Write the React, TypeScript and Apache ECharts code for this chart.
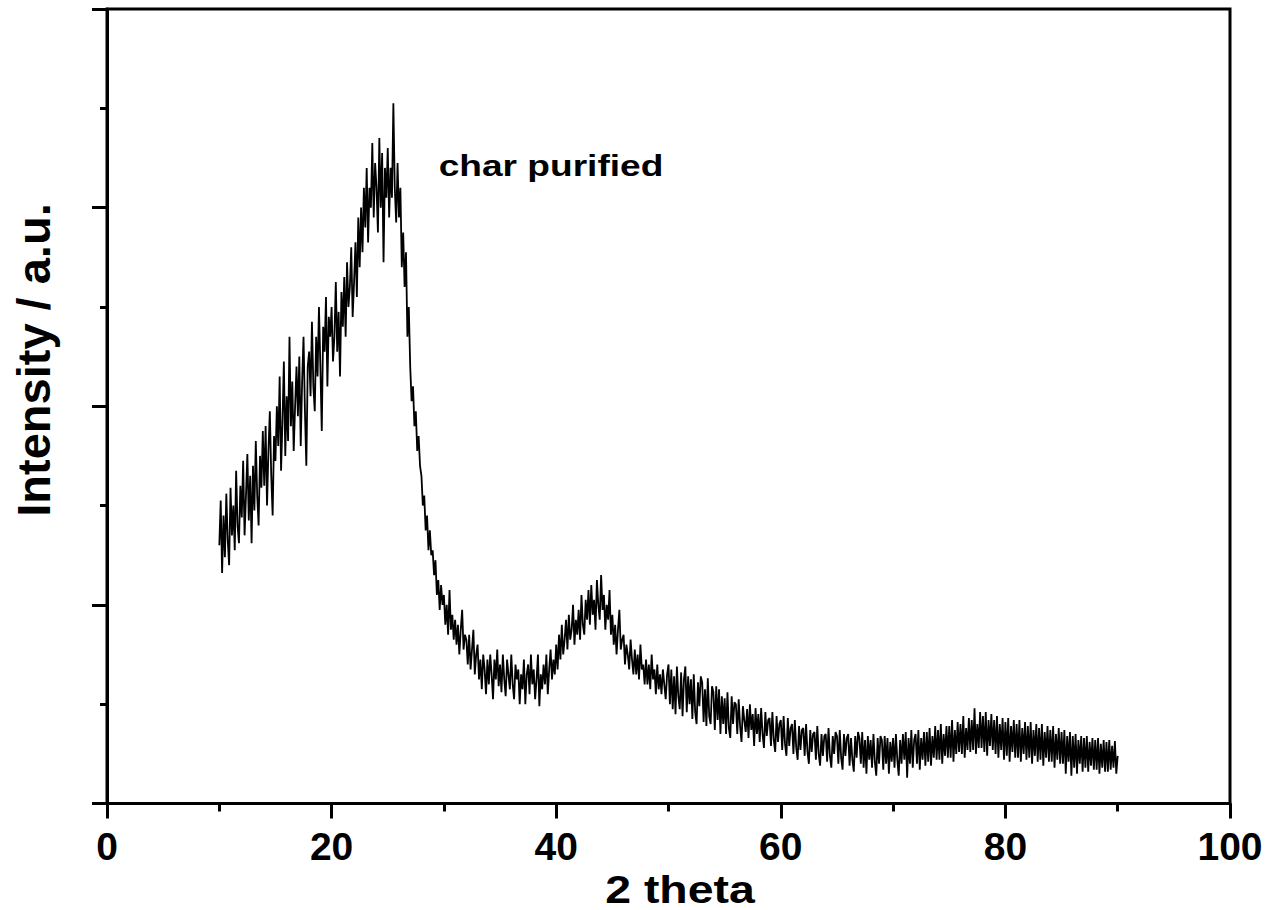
import React, { useEffect, useRef } from "react";
import * as echarts from "echarts";

// Axis ranges (2 theta in degrees, intensity in arbitrary units)
const X_MIN = 0;
const X_MAX = 100;
const X_INTERVAL = 20;
const Y_MIN = 0;
const Y_MAX = 800;
const Y_INTERVAL = 200;

// Sampling step of the diffractogram readings (degrees)
const STEP = 0.125;

// Intensity readings, 10.000° – 29.875° (8 per degree)
const SEG_A_START = 10;
const SEG_A = [
  260, 305, 232, 290, 248, 312, 265, 240,
  318, 270, 300, 255, 335, 280, 262, 320,
  288, 345, 270, 310, 352, 285, 330, 262,
  340, 295, 365, 310, 280, 350, 318, 375,
  320, 380, 300, 355, 395, 330, 290, 370,
  345, 400, 360, 430, 335, 385, 445, 350,
  410, 365, 470, 380, 425, 355, 400, 440,
  390, 450, 360, 425, 470, 395, 340, 440,
  455, 410, 485, 420, 395, 470, 430, 500,
  440, 375, 480, 455, 510, 420, 490, 470,
  500, 445, 470, 525, 455, 495, 430, 515,
  480, 530, 470, 545, 500, 520, 560, 490,
  525, 565, 510, 590, 540, 600, 555, 620,
  580, 640, 565, 620, 600, 665, 590, 645,
  620, 575, 670, 600, 655, 545, 640, 610,
  660, 590, 640, 610, 705, 620, 585, 645,
  590, 620, 540, 575, 520, 555, 470, 500,
  440, 405, 420, 380, 395, 355, 370, 340,
  330, 300, 310, 275, 290, 255, 275, 250,
  255, 230, 245, 210, 225, 195, 220, 200,
];

// Intensity readings, 30.000° – 49.875°
const SEG_B_START = 30;
const SEG_B = [
  210, 180, 200, 170, 215, 175, 190, 165,
  185, 160, 180, 150, 175, 195, 155, 170,
  165, 140, 170, 135, 155, 175, 130, 150,
  160, 125, 145, 115, 150, 135, 110, 145,
  120, 150, 130, 105, 145, 125, 155, 118,
  140, 112, 150, 125, 108, 145, 130, 115,
  150, 120, 105, 140, 125, 135, 100, 130,
  115, 145, 100, 130, 140, 110, 150, 120,
  135, 105, 125, 150, 98, 130, 115, 140,
  120, 150, 110, 135, 155, 125, 145, 130,
  160, 135, 170, 145, 180, 150, 165, 185,
  155, 190, 165, 175, 200, 160, 185, 170,
  195, 165, 210, 180, 170, 205, 185, 215,
  180, 220, 190, 205, 175, 225, 200, 185,
  230, 195, 210, 175, 200, 185, 215, 170,
  190, 160, 180, 150, 175, 195, 155, 165,
  170, 140, 160, 150, 135, 165, 145, 130,
  155, 130, 150, 125, 160, 135, 140, 120,
  145, 120, 140, 115, 150, 125, 135, 110,
  140, 115, 130, 110, 135, 120, 105, 130,
];

// Intensity readings, 50.000° – 69.875°
const SEG_C_START = 50;
const SEG_C = [
  140, 100, 135, 95, 128, 90, 138, 108,
  95, 132, 88, 125, 138, 92, 128, 100,
  125, 85, 130, 92, 80, 122, 98, 128,
  122, 82, 115, 78, 126, 88, 80, 118,
  112, 74, 118, 84, 115, 70, 108, 80,
  106, 70, 112, 76, 66, 108, 80, 102,
  100, 70, 105, 78, 62, 98, 84, 72,
  95, 66, 100, 74, 90, 58, 96, 70,
  90, 62, 96, 70, 56, 92, 68, 84,
  86, 58, 92, 64, 52, 88, 62, 80,
  84, 54, 88, 60, 48, 86, 58, 76,
  80, 50, 84, 56, 44, 78, 54, 74,
  76, 48, 80, 52, 40, 74, 52, 70,
  72, 44, 78, 50, 38, 70, 48, 68,
  70, 42, 76, 48, 36, 68, 50, 72,
  68, 40, 74, 46, 34, 70, 48, 66,
  70, 38, 66, 44, 32, 68, 46, 72,
  66, 40, 72, 36, 64, 30, 68, 44,
  64, 36, 70, 42, 28, 66, 40, 68,
  64, 34, 68, 40, 66, 30, 62, 42,
];

// Intensity readings, 70.000° – 90.000°
const SEG_D_START = 70;
const SEG_D = [
  66, 36, 70, 44, 28, 64, 40, 70,
  44, 72, 26, 66, 40, 74, 36, 64,
  70, 40, 74, 34, 66, 44, 72, 38,
  72, 42, 76, 38, 68, 46, 78, 44,
  74, 44, 80, 40, 70, 48, 78, 46,
  78, 46, 84, 42, 74, 50, 82, 52,
  80, 50, 88, 46, 76, 54, 86, 52,
  84, 54, 96, 50, 80, 56, 92, 56,
  88, 52, 92, 48, 84, 58, 90, 54,
  84, 50, 88, 46, 80, 54, 86, 44,
  82, 48, 86, 42, 78, 52, 84, 46,
  80, 46, 84, 42, 76, 50, 82, 44,
  78, 46, 82, 40, 74, 48, 80, 42,
  76, 44, 80, 38, 72, 46, 78, 42,
  74, 42, 78, 36, 70, 44, 76, 40,
  72, 40, 74, 30, 68, 42, 72, 28,
  68, 36, 70, 30, 64, 40, 68, 32,
  66, 36, 68, 32, 62, 38, 66, 34,
  64, 34, 66, 30, 60, 36, 64, 32,
  62, 32, 64, 34, 58, 36, 63, 30,
  48,
];

const SEGMENTS: [number, number[]][] = [
  [SEG_A_START, SEG_A],
  [SEG_B_START, SEG_B],
  [SEG_C_START, SEG_C],
  [SEG_D_START, SEG_D],
];

const X_TITLE = "2 theta";
const Y_TITLE = "Intensity / a.u.";
const SAMPLE_LABEL = "char purified";

const FONT = "'Liberation Sans', Arial, Helvetica, sans-serif";

function buildData(): [number, number][] {
  const out: [number, number][] = [];
  for (const [start, vals] of SEGMENTS) {
    vals.forEach((v, i) => {
      out.push([+(start + i * STEP).toFixed(3), v]);
    });
  }
  return out;
}

export default function App() {
  const ref = useRef<HTMLDivElement>(null);

  useEffect(() => {
    if (!ref.current) return;
    const chart = echarts.init(ref.current, undefined, { renderer: "svg" });
    const axisLineStyle = { color: "#000", width: 3 };
    chart.setOption({
      animation: false,
      backgroundColor: "#ffffff",
      grid: {
        left: 107,
        right: 40,
        top: 9,
        bottom: 106.5,
        show: true,
        borderColor: "#000",
        borderWidth: 3,
        backgroundColor: "transparent",
      },
      xAxis: {
        type: "value",
        min: X_MIN,
        max: X_MAX,
        interval: X_INTERVAL,
        axisLine: { show: true, onZero: false, lineStyle: axisLineStyle },
        axisTick: { show: true, inside: false, length: 15, lineStyle: axisLineStyle },
        minorTick: { show: true, splitNumber: 2, length: 8, lineStyle: axisLineStyle },
        splitLine: { show: false },
        minorSplitLine: { show: false },
        axisLabel: {
          show: true,
          color: "#000",
          fontSize: 39,
          fontWeight: "bold",
          fontFamily: FONT,
          margin: 23,
        },
      },
      yAxis: {
        type: "value",
        min: Y_MIN,
        max: Y_MAX,
        interval: Y_INTERVAL,
        axisLine: { show: true, onZero: false, lineStyle: axisLineStyle },
        axisTick: { show: true, inside: false, length: 15, lineStyle: axisLineStyle },
        minorTick: { show: true, splitNumber: 2, length: 7, lineStyle: axisLineStyle },
        splitLine: { show: false },
        minorSplitLine: { show: false },
        axisLabel: { show: false },
      },
      series: [
        {
          type: "line",
          data: buildData(),
          symbol: "none",
          showSymbol: false,
          lineStyle: { color: "#000", width: 1.8 },
          itemStyle: { color: "#000" },
          clip: true,
        },
      ],
      graphic: [
        {
          type: "text",
          x: 33,
          y: 360,
          rotation: Math.PI / 2,
          style: {
            text: Y_TITLE,
            fontSize: 47,
            fontWeight: "bold",
            fontFamily: FONT,
            fill: "#000",
            align: "center",
            verticalAlign: "middle",
          },
        },
        {
          type: "text",
          x: 680,
          y: 889,
          scaleX: 1.19,
          style: {
            text: X_TITLE,
            fontSize: 39,
            fontWeight: "bold",
            fontFamily: FONT,
            fill: "#000",
            align: "center",
            verticalAlign: "middle",
          },
        },
        {
          type: "text",
          x: 551,
          y: 166,
          scaleX: 1.28,
          style: {
            text: SAMPLE_LABEL,
            fontSize: 29,
            fontWeight: "bold",
            fontFamily: FONT,
            fill: "#000",
            align: "center",
            verticalAlign: "middle",
          },
        },
      ],
    });
    return () => chart.dispose();
  }, []);

  return (
    <div
      ref={ref}
      style={{ position: "fixed", left: 0, top: 0, width: 1270, height: 910 }}
    />
  );
}
